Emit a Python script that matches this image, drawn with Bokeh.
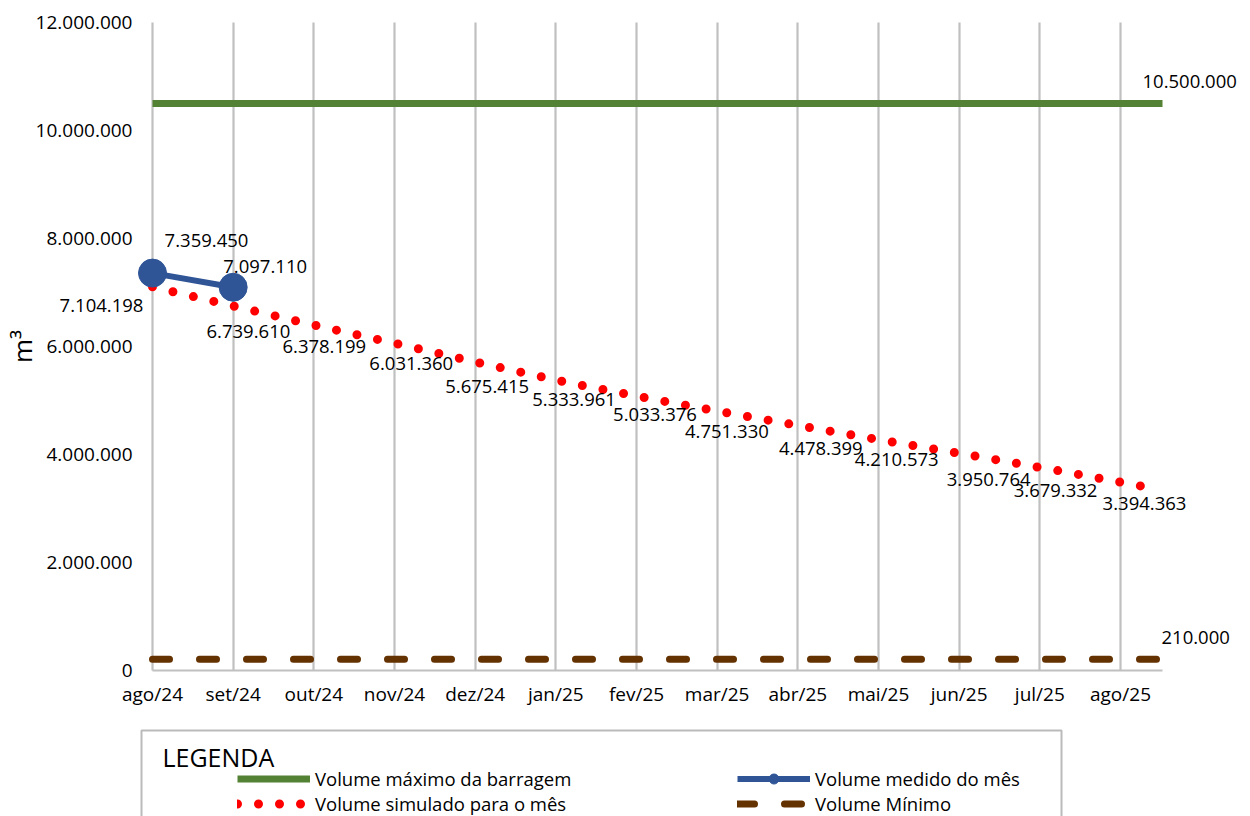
from math import pi
from bokeh.plotting import figure
from bokeh.models import (Range1d, FixedTicker, ColumnDataSource, LabelSet, Label,
                          Legend, LegendItem, BoxAnnotation, Grid)
from bokeh.core.properties import value
from bokeh.embed import file_html
from bokeh.resources import INLINE

# ---------------- data ----------------
months = ["ago/24", "set/24", "out/24", "nov/24", "dez/24", "jan/25", "fev/25",
          "mar/25", "abr/25", "mai/25", "jun/25", "jul/25", "ago/25"]
volume_maximo = 10500000
volume_minimo = 210000
volume_medido = [7359450, 7097110]
volume_simulado = [7104198, 6739610, 6378199, 6031360, 5675415, 5333961, 5033376,
                   4751330, 4478399, 4210573, 3950764, 3679332, 3394363]
y_ticks = [0, 2000000, 4000000, 6000000, 8000000, 10000000, 12000000]

# label nudges (screen px, +up)
medido_dx = [54, 32]
medido_dy = [33, 21]
simulado_dx = [-51, 13, 6, 10, 3, 7, 5, -6, 5, -2, 7, -9, -3]
simulado_dy = [-19, -25, -20, -19, -22, -17, -16, -18, -20, -16, -22, -19, -16]


def fmt(v):
    return f"{v:,}".replace(",", ".")


# ---------------- layout (pixels) ----------------
W, H = 1250, 816
PX_LEFT, PX_RIGHT = 152, 1162        # plot area horizontally
PX_TOP, PX_BOTTOM = 22, 670          # plot area vertically
PX_LAST_MONTH = 1120
PX_LAST_SIM = 1147
n_steps = len(months) - 1
month_px = (PX_LAST_MONTH - PX_LEFT) / n_steps
sim_px = (PX_LAST_SIM - PX_LEFT) / (len(volume_simulado) - 1)
y_top = y_ticks[-1]
y_per_px = y_top / (PX_BOTTOM - PX_TOP)


def px_x(px):
    return (px - PX_LEFT) / month_px


def px_y(py):
    return (PX_BOTTOM - py) * y_per_px


FONT = "Open Sans"
GREEN = "#548235"
BROWN = "#643200"
RED = "#ff0000"
BLUE = "#2f5597"
GRID = "#c0c0c0"

xr = Range1d(px_x(0), px_x(W))
yr = Range1d(px_y(H), px_y(0))
p = figure(width=W, height=H, x_range=xr, y_range=yr,
           output_backend="svg", toolbar_location=None,
           min_border_left=0, min_border_right=0, min_border_top=0, min_border_bottom=0)
p.extra_x_ranges = {"sim": Range1d(-PX_LEFT / sim_px, (W - PX_LEFT) / sim_px)}
p.outline_line_color = None
p.background_fill_color = "white"
p.border_fill_color = "white"

x_end = px_x(PX_RIGHT)
xt = FixedTicker(ticks=list(range(len(months))))
p.xaxis.ticker = xt
p.xaxis.major_label_overrides = {i: m for i, m in enumerate(months)}
p.yaxis.ticker = FixedTicker(ticks=y_ticks)
p.yaxis.major_label_overrides = {t: fmt(t) for t in y_ticks}
p.xaxis.fixed_location = 0
p.yaxis.fixed_location = 0
p.xaxis.bounds = (0, x_end)
p.yaxis.bounds = (0, y_top)

for ax in (p.xaxis[0], p.yaxis[0]):
    ax.major_tick_line_color = None
    ax.minor_tick_line_color = None
    ax.major_tick_out = 0
    ax.major_tick_in = 0
    ax.minor_tick_out = 0
    ax.minor_tick_in = 0
    ax.major_label_text_font = FONT
    ax.major_label_text_font_size = "19px"
    ax.major_label_text_color = "black"
p.xaxis.axis_line_color = GRID
p.xaxis.axis_line_width = 2
p.xaxis.major_label_standoff = 10
p.yaxis.axis_line_color = None
p.yaxis.major_label_standoff = 20

p.ygrid.grid_line_color = None
if "cross_bounds" in Grid.properties():
    p.xgrid.ticker = xt
    p.xgrid.cross_bounds = (0, y_top)
    p.xgrid.grid_line_color = GRID
    p.xgrid.grid_line_width = 2.2
else:
    p.xgrid.grid_line_color = None
    ticks = list(range(len(months)))
    p.segment(x0=ticks, y0=[0] * len(ticks), x1=ticks, y1=[y_top] * len(ticks),
              line_color=GRID, line_width=2.2)

# ---------------- glyphs ----------------
green = p.line(x=[0, x_end], y=[volume_maximo, volume_maximo],
               line_color=GREEN, line_width=7, line_cap="butt")
brown = p.line(x=[0, x_end], y=[volume_minimo, volume_minimo],
               line_color=BROWN, line_width=7, line_cap="round", line_dash="17 30")
red = p.line(x=list(range(len(volume_simulado))), y=volume_simulado, x_range_name="sim",
             line_color=RED, line_width=9, line_cap="round", line_dash="0 21")
blue_line = p.line(x=list(range(len(volume_medido))), y=volume_medido,
                   line_color=BLUE, line_width=6)
blue_pts = p.scatter(x=list(range(len(volume_medido))), y=volume_medido, size=28,
                     fill_color=BLUE, line_color=BLUE)

# ---------------- data labels ----------------
src_med = ColumnDataSource(dict(x=list(range(len(volume_medido))), y=volume_medido,
                                text=[fmt(v) for v in volume_medido],
                                dx=medido_dx, dy=medido_dy))
p.add_layout(LabelSet(x="x", y="y", text="text", x_offset="dx", y_offset="dy",
                      source=src_med, text_align="center", text_baseline="middle",
                      text_font=value(FONT), text_font_size="18.5px", text_color="black"))

src_sim = ColumnDataSource(dict(x=list(range(len(volume_simulado))), y=volume_simulado,
                                text=[fmt(v) for v in volume_simulado],
                                dx=simulado_dx, dy=simulado_dy))
p.add_layout(LabelSet(x="x", y="y", text="text", x_offset="dx", y_offset="dy",
                      source=src_sim, x_range_name="sim",
                      text_align="center", text_baseline="middle",
                      text_font=value(FONT), text_font_size="18.5px", text_color="black"))

last = len(months) - 1
p.add_layout(Label(x=last, y=volume_maximo, x_offset=22, y_offset=22, text=fmt(volume_maximo),
                   text_align="left", text_baseline="middle", text_font=FONT,
                   text_font_size="18.5px", text_color="black"))
p.add_layout(Label(x=last, y=volume_minimo, x_offset=41, y_offset=22, text=fmt(volume_minimo),
                   text_align="left", text_baseline="middle", text_font=FONT,
                   text_font_size="18.5px", text_color="black"))

# y axis title
p.add_layout(Label(x=0, y=y_top / 2, x_offset=-131, y_offset=0,
                   text="m³", angle=pi / 2, text_align="center", text_baseline="middle",
                   text_font=FONT, text_font_size="26px", text_color="black"))

# ---------------- legend ----------------
p.add_layout(BoxAnnotation(left=px_x(141), right=px_x(1061), top=px_y(730), bottom=px_y(900),
                           fill_color=None, fill_alpha=0, line_color="#1a1a1a", line_width=2))
p.add_layout(Label(x=0, y=0, x_offset=10, y_offset=-86, text="LEGENDA",
                   text_align="left", text_baseline="middle", text_font=FONT,
                   text_font_size="25px", text_color="black"))

common = dict(orientation="vertical", glyph_width=73, glyph_height=25, spacing=0,
              padding=0, margin=0, border_line_color=None, background_fill_alpha=0,
              label_standoff=5, label_height=25, label_text_font=FONT,
              label_text_font_size="18.5px", label_text_color="black")
leg1 = Legend(items=[LegendItem(label="Volume máximo da barragem", renderers=[green]),
                     LegendItem(label="Volume simulado para o mês", renderers=[red])],
              location=(237, 0), **common)
leg2 = Legend(items=[LegendItem(label="Volume medido do mês", renderers=[blue_line, blue_pts]),
                     LegendItem(label="Volume Mínimo", renderers=[brown])],
              location=(737, 0), **common)
p.add_layout(leg1)
p.add_layout(leg2)

open("out.html", "w").write(file_html(p, INLINE))
